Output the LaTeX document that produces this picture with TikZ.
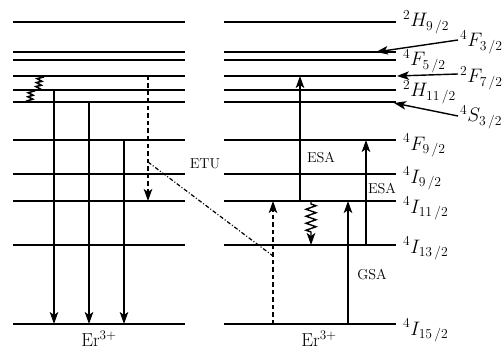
\documentclass[tikz,border=0pt]{standalone}
\usepackage{fix-cm}
\usetikzlibrary{arrows.meta,decorations.pathmorphing}
\begin{document}
\begin{tikzpicture}[x=1pt,y=-1pt,
  level/.style={line width=1.5pt},
  tr/.style={line width=1.4pt,-{Stealth[length=12pt,width=8.5pt,inset=3pt]}},
  dsh/.style={tr,dash pattern=on 4.5pt off 3pt},
  lab/.style={anchor=base west,inner sep=0pt,font=\fontsize{19.5}{22}\selectfont},
  txt/.style={inner sep=0pt,font=\fontsize{14.4}{16}\selectfont},
  er/.style={anchor=base,inner sep=0pt,font=\fontsize{18.8}{21}\selectfont},
  wig/.style={line width=1.6pt,decorate,decoration={zigzag,amplitude=2.5pt,segment length=4pt}}]
\useasboundingbox (0,0) rectangle (503,350);
\foreach \n/\y in {a/22,b/52,c/60,d/76,e/90,f/102,g/140,h/174,i/201,j/245,k/324}{
  \coordinate (L\n1) at (13,\y); \coordinate (L\n2) at (185,\y);
  \coordinate (R\n1) at (224,\y); \coordinate (R\n2) at (396,\y);
  \draw[level] (L\n1) -- (L\n2);
  \draw[level] (R\n1) -- (R\n2);
}
% level labels
\node[lab] (t1) at (403,27) {${}^{2}H_{9\,/2}$};
\node[lab] (t2) at (460,47) {${}^{4}F_{3\,/2}$};
\node[lab] (t3) at (403,66) {${}^{4}F_{5\,/2}$};
\node[lab] (t4) at (460,83) {${}^{2}F_{7\,/2}$};
\node[lab] (t5) at (403,97) {${}^{2}H_{11\,/2}$};
\node[lab] (t6) at (460,122) {${}^{4}S_{3\,/2}$};
\node[lab] (t7) at (403,150) {${}^{4}F_{9\,/2}$};
\node[lab] (t8) at (403,183) {${}^{4}I_{9\,/2}$};
\node[lab] (t9) at (403,213) {${}^{4}I_{11\,/2}$};
\node[lab] (t10) at (403,253) {${}^{4}I_{13\,/2}$};
\node[lab] (t11) at (403,335) {${}^{4}I_{15\,/2}$};
% pointer arrows
\coordinate (p2) at (376,52); \coordinate (p4) at (397,76); \coordinate (p6) at (394,103);
\coordinate (s2) at (458,40); \coordinate (s4) at (458,74); \coordinate (s6) at (458,116);
\draw[tr] (s2) -- (p2);
\draw[tr] (s4) -- (p4);
\draw[tr] (s6) -- (p6);
% Er labels
\node[er] (erL) at (99,346) {Er$^{3+}$};
\node[er] (erR) at (319,346) {Er$^{3+}$};
% left emissions
\coordinate (a1) at (54,90);  \coordinate (a1e) at (54,324);
\coordinate (a2) at (89,102); \coordinate (a2e) at (89,324);
\coordinate (a3) at (124,140); \coordinate (a3e) at (124,324);
\draw[tr] (a1) -- (a1e);
\draw[tr] (a2) -- (a2e);
\draw[tr] (a3) -- (a3e);
% small nonradiative relaxations
\coordinate (w1) at (40,76); \coordinate (w1e) at (38,90);
\coordinate (w2) at (31,90); \coordinate (w2e) at (30,102);
\draw[wig] (w1) -- (w1e);
\draw[wig] (w2) -- (w2e);
% ETU
\coordinate (d1) at (148,76); \coordinate (d1e) at (148,201);
\draw[dsh] (d1) -- (d1e);
\coordinate (e1) at (148,162); \coordinate (e2) at (273,256);
\draw[line width=1.2pt,dash pattern=on 4pt off 2pt on 1pt off 2pt] (e1) -- (e2);
\coordinate (d2) at (273,324); \coordinate (d2e) at (273,201);
\draw[dsh] (d2) -- (d2e);
\node[txt] (etu) at (205,164) {ETU};
% right transitions
\coordinate (u1) at (300,201); \coordinate (u1e) at (300,76);
\draw[tr] (u1) -- (u1e);
\node[txt] (esa1) at (321,158) {ESA};
\coordinate (g1) at (348,324); \coordinate (g1e) at (348,201);
\draw[tr] (g1) -- (g1e);
\node[txt] (gsa) at (372,275) {GSA};
\coordinate (u2) at (366,245); \coordinate (u2e) at (366,140);
\draw[tr] (u2) -- (u2e);
\node[txt] (esa2) at (382,189) {ESA};
\coordinate (z1) at (311,201); \coordinate (z1e) at (311,245);
\draw[tr,decorate,decoration={zigzag,amplitude=5pt,segment length=7pt,pre length=3pt,post length=11pt}] (z1) -- (z1e);
\end{tikzpicture}
\end{document}
